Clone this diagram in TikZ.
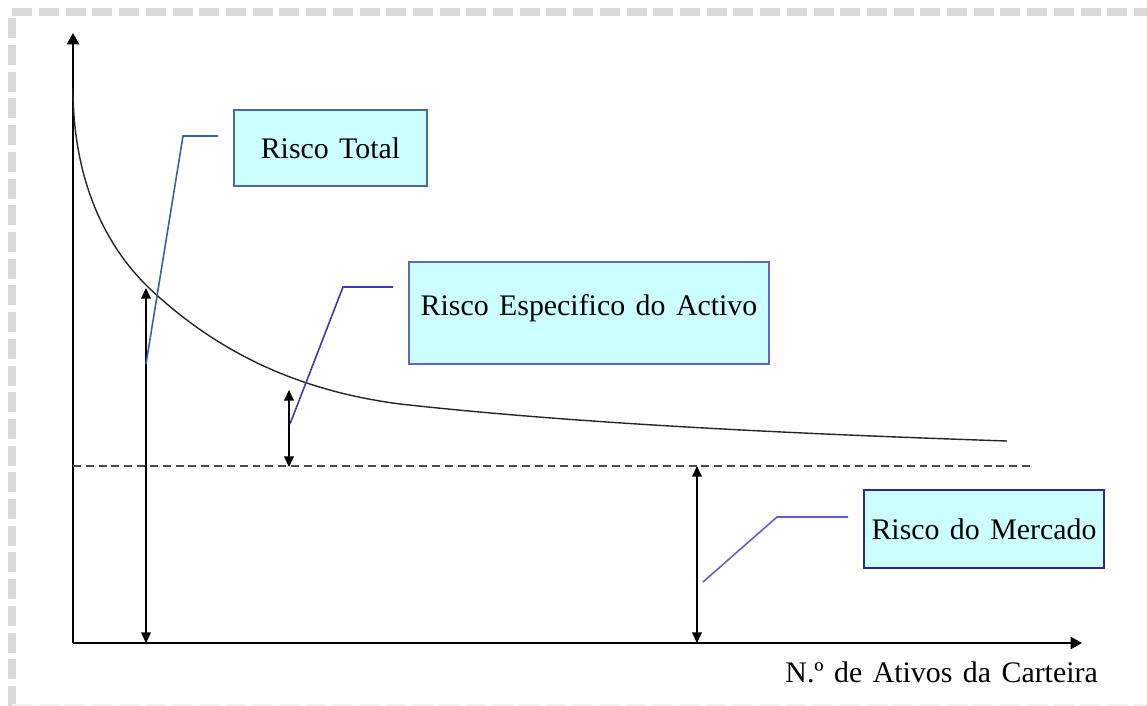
\documentclass[tikz,border=0pt]{standalone}
\usepackage{fontspec}
\setmainfont{Liberation Serif}[WordSpace=1.4]
\usepackage{tikz}
\usetikzlibrary{arrows.meta}

\definecolor{boxfill}{HTML}{CCFFFF}
\definecolor{framegray}{HTML}{D9D9D9}
\definecolor{totalblue}{HTML}{4A6A9A}
\definecolor{specblue}{HTML}{6464C8}
\definecolor{mktblue}{HTML}{2828A0}
\definecolor{leadtotal}{HTML}{3A5FA0}
\definecolor{leadspec}{HTML}{3A3AB4}
\definecolor{leadmkt}{HTML}{6060C0}

\begin{document}
\begin{tikzpicture}[x=0.02cm, y=-0.02cm,
    box/.style={draw, fill=boxfill, line width=1.1pt, inner sep=0pt,
      font=\fontsize{17}{20}\selectfont},
    axis/.style={line width=1.1pt, -{Triangle[width=7pt,length=6.5pt]}},
    span/.style={line width=0.8pt, {Triangle[width=5.5pt,length=6pt]}-{Triangle[width=5.5pt,length=6pt]}},
    leader/.style={line width=0.9pt}]
    \useasboundingbox (0,0) rectangle (1147,706);

    % frame round the figure
    \draw[framegray, line width=4pt, dash pattern=on 11.4pt off 3.8pt] (12,706) -- (12,12) -- (1150,12);
    \draw[framegray!40, line width=1pt, dash pattern=on 11.4pt off 3.8pt] (12,705) -- (1150,705);

    % axes
    \coordinate (org) at (73,643);
    \coordinate (ytop) at (73,33);
    \coordinate (xend) at (1082,643);
    \draw[axis] (org) -- (ytop);
    \draw[axis] (org) -- (xend);
    \node[anchor=base east, font=\fontsize{17}{20}\selectfont] (xlab) at (1104,682) {N.º de Ativos da Carteira};

    % total risk curve
    \coordinate (c0) at (73,88);
    \coordinate (c1) at (148,287);
    \coordinate (c2) at (400,404);
    \coordinate (c3) at (1007,441);
    \draw[line width=0.8pt, black!85] (c0) .. controls (73,180) and (105,245) .. (c1)
      .. controls (218,353.5) and (300,391) .. (c2)
      .. controls (580,424) and (800,434) .. (c3);

    % market level
    \coordinate (mktl) at (73,466);
    \coordinate (mktr) at (1030,466);
    \draw[line width=0.8pt, black!70, dash pattern=on 4.5pt off 2.8pt] (mktl) -- (mktr);

    % spans
    \coordinate (t0) at (146,643);
    \coordinate (t1) at (146,288);
    \coordinate (s0) at (289,467);
    \coordinate (s1) at (289,390);
    \coordinate (m0) at (697,643);
    \coordinate (m1) at (697,466);
    \draw[span] (t0) -- (t1);
    \draw[span] (s0) -- (s1);
    \draw[span] (m0) -- (m1);

    % labels
    \node[box, draw=totalblue, minimum width=3.86cm, minimum height=1.52cm] (total) at (330.5,148) {Risco Total};
    \node[box, draw=specblue, minimum width=7.2cm, minimum height=2.04cm, text depth=9pt] (spec) at (589,313) {Risco Especifico do Activo};
    \node[box, draw=mktblue, minimum width=4.8cm, minimum height=1.56cm] (mkt) at (984,529) {Risco do Mercado};

    % leader lines
    \coordinate (lt0) at (146,364);
    \coordinate (lt1) at (183,136);
    \coordinate (lt2) at (218,136);
    \coordinate (ls0) at (290,424);
    \coordinate (ls1) at (343,287);
    \coordinate (ls2) at (393,287);
    \coordinate (lm0) at (703,582);
    \coordinate (lm1) at (777,517);
    \coordinate (lm2) at (848,517);
    \draw[leader, leadtotal] (lt0) -- (lt1) -- (lt2);
    \draw[leader, leadspec] (ls0) -- (ls1) -- (ls2);
    \draw[leader, leadmkt] (lm0) -- (lm1) -- (lm2);
\end{tikzpicture}
\end{document}
